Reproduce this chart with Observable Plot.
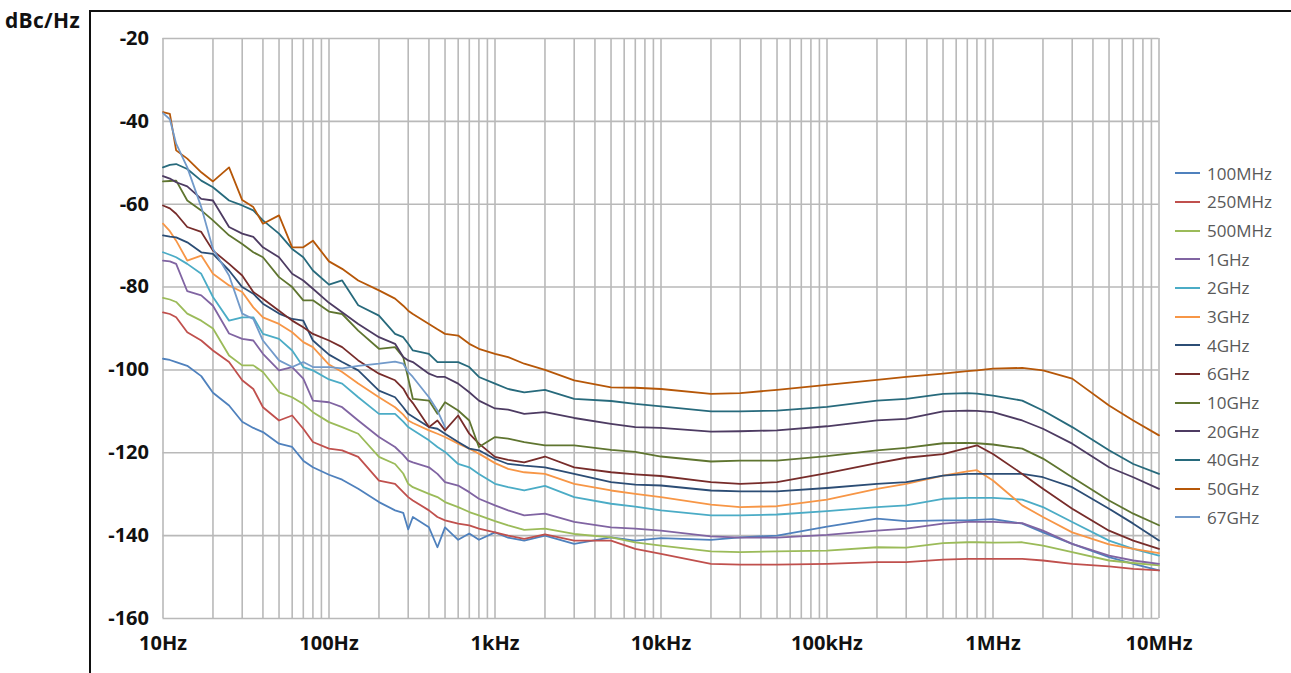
<!DOCTYPE html>
<html><head><meta charset="utf-8">
<script src="https://cdn.jsdelivr.net/npm/d3@7"></script>
<script src="https://cdn.jsdelivr.net/npm/@observablehq/plot@0.6"></script>
<style>
body{margin:0;background:#fff;width:1291px;height:673px;overflow:hidden;position:relative;font-family:"Open Sans","Noto Sans",sans-serif;}
#frame{position:absolute;left:89px;top:10px;width:1220px;height:700px;border-left:2px solid #111;border-top:2px solid #111;}
#ylabel{position:absolute;left:5px;top:6px;font-weight:700;font-size:21px;color:#111;letter-spacing:0.3px;}
#chart{position:absolute;left:90px;top:10px;}
#legend{position:absolute;left:1175px;top:159px;}
.row{height:28.67px;display:flex;align-items:center;font-size:17px;color:#595959;}
.sw{width:25px;height:2px;margin-right:7px;}
</style></head>
<body>
<div id="frame"></div>
<div id="ylabel">dBc/Hz</div>
<div id="chart"></div>
<div id="legend"></div>
<script>
const freqs = [10,11,12,14,17,20,25,30,35,40,50,60,70,80,100,120,150,200,250,280,300,320,400,450,500,600,700,800,1e3,1.2e3,1.5e3,2e3,3e3,5e3,7e3,1e4,2e4,3e4,5e4,1e5,2e5,3e5,5e5,7e5,8e5,1e6,1.5e6,2e6,3e6,5e6,7e6,1e7];

const s100MHz = [-97.3,-97.6,-98.1,-99,-101.5,-105.5,-108.6,-112.5,-114,-115,
 -117.8,-118.6,-121.9,-123.5,-125.3,-126.5,-128.7,-131.9,-133.9,-134.5,
 -138.5,-135.5,-138,-142.8,-138,-141,-139.5,-141,-139.2,-140.5,
 -141.2,-140,-142,-140.4,-141.2,-140.6,-141,-140.4,-140,-137.8,
 -135.9,-136.5,-136.3,-136.3,-136.2,-136,-137.1,-139.2,-142,-145.2,
 -146.8,-148.4];
const s250MHz = [-86.1,-86.5,-87.3,-90.9,-92.9,-95.3,-98.1,-102.5,-104.6,-109,
 -112.2,-111,-114.2,-117.4,-119,-119.4,-121,-126.7,-127.5,-129.5,
 -130.7,-131.5,-133.9,-135.5,-136.3,-137.1,-137.5,-138.3,-139.2,-140,
 -140.8,-139.7,-141.2,-141.2,-143.2,-144.4,-146.8,-147,-147,-146.8,
 -146.4,-146.4,-145.8,-145.6,-145.6,-145.6,-145.6,-146,-146.8,-147.4,
 -148,-148.4];
const s500MHz = [-82.6,-83,-83.6,-86.4,-88.1,-90,-96.5,-98.9,-98.9,-100.5,
 -105.4,-106.6,-108.2,-110.2,-112.6,-113.8,-115.4,-121,-122.7,-125,
 -127.5,-128.3,-129.9,-130.7,-131.9,-133.1,-134.3,-135.1,-136.5,-137.5,
 -138.6,-138.3,-139.6,-140.4,-141.6,-142.4,-143.8,-144,-143.8,-143.6,
 -142.8,-142.9,-141.8,-141.6,-141.6,-141.7,-141.6,-142.4,-144,-146,
 -146.6,-147.2];
const s1GHz = [-73.6,-73.8,-74.4,-81,-82,-84.5,-91.2,-92.5,-92.9,-96.1,
 -100.1,-99.3,-102.1,-107.4,-107.8,-109,-112.2,-116.2,-118.6,-120.5,
 -121.9,-122.3,-123.5,-125.1,-127.1,-127.9,-129.5,-131.1,-132.7,-133.9,
 -135.1,-134.7,-136.7,-138,-138.3,-138.8,-140.2,-140.5,-140.5,-139.8,
 -138.8,-138.3,-137.1,-136.7,-136.7,-136.7,-137,-138.8,-142,-144.8,
 -146,-146.8];
const s2GHz = [-71.6,-72.2,-72.8,-74.4,-76.8,-82.4,-88.1,-87.3,-87.3,-91.3,
 -92.5,-95.3,-99.3,-100.1,-102.3,-103.3,-106.6,-110.6,-110.6,-112.5,
 -113.8,-114.5,-117,-118.6,-119.8,-122.7,-123.5,-125.1,-127.5,-128.3,
 -129.1,-128,-130.7,-132.3,-133,-133.9,-135.1,-135.1,-134.9,-134.1,
 -133.1,-132.7,-131.1,-130.9,-130.9,-130.9,-131.3,-133.1,-136.7,-141.2,
 -143.2,-144.8];
const s3GHz = [-64.7,-66.5,-68.8,-73.6,-72.4,-76.8,-79.6,-81.2,-84.9,-87.3,
 -88.9,-90.9,-93.3,-94.5,-98.7,-100.5,-103.3,-106.6,-109,-110.8,
 -112.2,-112.8,-114.6,-115.4,-116.2,-117.8,-119,-120.2,-122.5,-123.9,
 -124.7,-125.1,-127.5,-129.1,-129.9,-130.7,-132.5,-133.1,-132.9,-131.3,
 -128.7,-127.5,-125.5,-124.5,-124.2,-126.7,-132.7,-135.5,-139.2,-142.1,
 -143.2,-144.2];
const s4GHz = [-67.5,-67.8,-68,-69.2,-71.6,-72,-76,-80,-81.6,-84,
 -86.4,-87.7,-88.1,-92.9,-96.3,-98.1,-100.1,-105,-106.6,-109,
 -110.6,-111.3,-113.8,-114.2,-115.4,-117.4,-119,-119.4,-121.5,-122.7,
 -123.1,-123.5,-125.1,-127.1,-127.7,-127.9,-129.1,-129.3,-129.3,-128.5,
 -127.5,-127.1,-125.5,-125.1,-125.1,-125.1,-125.1,-125.9,-128.3,-133.5,
 -137.1,-141.2];
const s6GHz = [-60.3,-61,-62.3,-65.5,-66.7,-71.2,-74.4,-77.2,-81.2,-82.8,
 -85.7,-88.1,-89.7,-91.3,-92.9,-94.5,-97.7,-100.9,-102.5,-104.5,
 -106.6,-108,-113.8,-112.2,-114.6,-111,-115.4,-117.8,-121,-121.7,
 -122.3,-120.9,-123.5,-124.7,-125.2,-125.6,-127.1,-127.5,-127.1,-124.9,
 -122.5,-121.2,-120.3,-118.8,-118.2,-120.3,-125.1,-128.7,-133.5,-138.8,
 -141.2,-143.2];
const s10GHz = [-54.5,-54.4,-54.3,-59.1,-61.5,-63.9,-67.5,-69.6,-71.6,-72.8,
 -77.6,-80,-83.2,-83.2,-85.9,-86.5,-90.5,-94.9,-94.5,-96.9,
 -102,-107,-107.4,-110.6,-107.8,-109.8,-112.2,-118.6,-116.2,-116.6,
 -117.4,-118.2,-118.2,-119.3,-119.8,-120.9,-122.1,-121.9,-121.9,-120.8,
 -119.4,-118.8,-117.7,-117.6,-117.7,-118,-119,-121.4,-125.9,-131.5,
 -134.7,-137.5];
const s20GHz = [-53.2,-53.8,-54.7,-55.7,-58.7,-59.1,-65.5,-67.1,-67.9,-70.4,
 -72.8,-76.8,-78.4,-80.4,-83.8,-86.1,-88.9,-92.1,-93.7,-96.9,
 -97.7,-98.1,-100.9,-101.7,-101.7,-103.3,-105.4,-107.4,-109.3,-109.6,
 -110.6,-110.2,-111.6,-113,-113.8,-114,-114.9,-114.8,-114.6,-113.6,
 -112.2,-111.8,-110,-109.8,-109.9,-110.2,-112.2,-114.2,-117.8,-123.5,
 -125.9,-128.7];
const s40GHz = [-51.1,-50.5,-50.3,-51.5,-54.3,-55.9,-59.1,-60.3,-61.5,-63.9,
 -67.1,-70.8,-72.8,-76,-79.4,-78.4,-84.4,-86.9,-91.3,-92.1,
 -93.7,-95.3,-96.1,-98.1,-98.1,-98.1,-99.3,-101.7,-103.3,-104.6,
 -105.4,-104.8,-107,-107.5,-108.2,-108.8,-110,-110,-109.8,-108.9,
 -107.4,-107,-105.8,-105.6,-105.7,-106.2,-107.4,-109.8,-113.8,-119.4,
 -122.7,-125.1];
const s50GHz = [-37.8,-38.2,-47,-49,-52.3,-54.5,-51.1,-59,-60.7,-64.7,
 -62.7,-70.4,-70.4,-68.8,-73.8,-75.6,-78.4,-80.8,-82.8,-84.5,
 -85.7,-86.5,-88.9,-90.2,-91.3,-91.7,-93.7,-94.9,-96.1,-96.9,
 -98.5,-100,-102.5,-104.2,-104.3,-104.6,-105.8,-105.6,-104.8,-103.6,
 -102.4,-101.7,-100.9,-100.3,-100.1,-99.7,-99.5,-100.1,-102.1,-108.6,
 -112.2,-115.8];
const s67GHz = [-38,-39.5,-45.4,-51.1,-60.7,-70.8,-77.2,-86.4,-87.7,-92.9,
 -97.7,-99.3,-98.1,-99.3,-99.3,-99.6,-99,-98.5,-98,-98.5,
 -100.5,-101.7,-106.6,-109.8,-113.8];

const seriesNames = ["100MHz","250MHz","500MHz","1GHz","2GHz","3GHz","4GHz","6GHz","10GHz","20GHz","40GHz","50GHz","67GHz"];
const seriesValues = [s100MHz,s250MHz,s500MHz,s1GHz,s2GHz,s3GHz,s4GHz,s6GHz,s10GHz,s20GHz,s40GHz,s50GHz,s67GHz];
const seriesColors = ["#4F81BD","#C0504D","#9BBB59","#8064A2","#4BACC6","#F79646","#2C4D75","#772C2A","#5F7530","#4D3B62","#276A7C","#B65708","#729ACA"];

const yTicks = [-20,-40,-60,-80,-100,-120,-140,-160];
const xTicks = [10,100,1e3,1e4,1e5,1e6,1e7];
const xTickLabels = ["10Hz","100Hz","1kHz","10kHz","100kHz","1MHz","10MHz"];
const minorMultiples = [1,2,3,4,5,6,7,8,9];

const rows = [];
seriesValues.forEach((vals, i) => {
  vals.forEach((v, j) => rows.push({f: freqs[j], db: v, s: seriesNames[i]}));
});
const gridX = [];
xTicks.slice(0, -1).forEach(d => minorMultiples.forEach(m => gridX.push(d * m)));
gridX.push(xTicks[xTicks.length - 1]);

const grid = "#b9b9b9";
const chart = Plot.plot({
  width: 1120,
  height: 663,
  marginLeft: 72.5,
  marginRight: 51.5,
  marginTop: 28,
  marginBottom: 55,
  style: {fontFamily: '"Open Sans","Noto Sans",sans-serif', background: "transparent", overflow: "visible"},
  x: {type: "log", domain: [10, 1e7]},
  y: {domain: [-160, -20]},
  color: {domain: seriesNames, range: seriesColors},
  marks: [
    Plot.ruleX(gridX, {stroke: grid, strokeWidth: 1.6}),
    Plot.ruleY(yTicks, {stroke: grid, strokeWidth: 1.6}),
    Plot.line(rows, {x: "f", y: "db", z: "s", stroke: "s", strokeWidth: 1.8, curve: "linear"}),
    Plot.axisY(yTicks, {tickSize: 0, tickPadding: 14, tickFormat: d => String(d), fontSize: 20, fontWeight: 700, fill: "#111", label: null}),
    Plot.axisX(xTicks, {tickSize: 0, tickPadding: 17, tickFormat: d => xTickLabels[xTicks.indexOf(d)], fontSize: 20, fontWeight: 700, fill: "#111", label: null})
  ]
});
document.getElementById("chart").appendChild(chart);

const legend = document.getElementById("legend");
seriesNames.forEach((n, i) => {
  const r = document.createElement("div");
  r.className = "row";
  const sw = document.createElement("span");
  sw.className = "sw";
  sw.style.background = seriesColors[i];
  const t = document.createElement("span");
  t.textContent = n;
  r.appendChild(sw); r.appendChild(t);
  legend.appendChild(r);
});
</script>
</body></html>
